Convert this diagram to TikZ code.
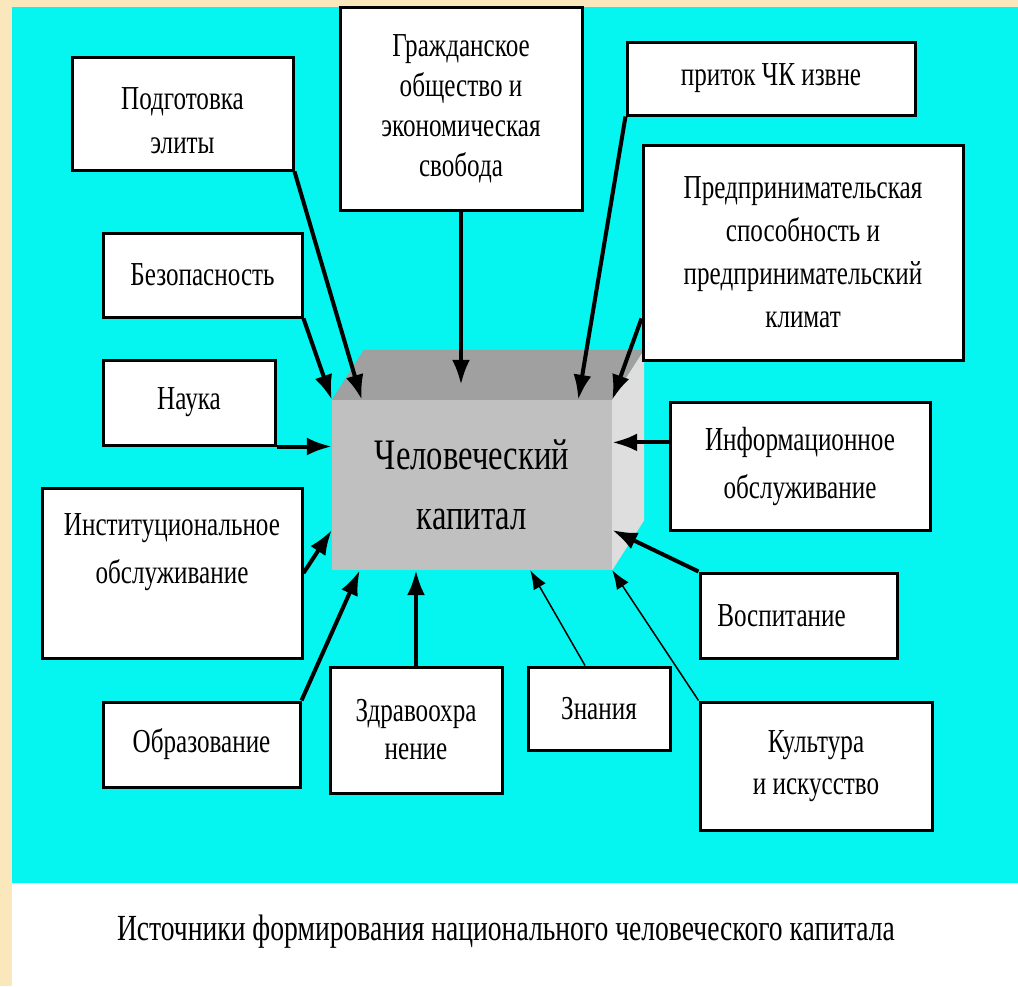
\documentclass[tikz,border=0pt]{standalone}
\usepackage{fontspec}
\setmainfont{Liberation Serif}[FakeStretch=0.75]
\usepackage{xcolor}
\usetikzlibrary{arrows.meta,calc}
\definecolor{bgcyan}{RGB}{5,245,240}
\definecolor{bgbeige}{RGB}{250,232,188}
\definecolor{hcfront}{RGB}{192,192,192}
\definecolor{hctop}{RGB}{160,160,160}
\definecolor{hcside}{RGB}{222,222,222}

\begin{document}
\begin{tikzpicture}[x=1pt,y=-1pt,
                every node/.append style = {align=center, font=\fontsize{33.5}{44}\selectfont},
                srcbox/.style = {draw, fill=white, line width=3pt, inner sep=0pt},
                inarrow/.style = {line width=4pt, -{Latex[length=25pt,width=18pt]}},
                thinarrow/.style = {line width=1.5pt, -{Latex[length=19pt,width=14pt]}}]
            \fill[bgbeige] (0,0) rectangle (1018,986);
            \fill[bgcyan] (12,7) rectangle (1018,883);
            \fill[white] (12,883) rectangle (1018,986);

            \node[fill=hcfront, minimum width=280, minimum height=170, font=\fontsize{43.5}{60}\selectfont] (hc) at (472,485) {Человеческий\\капитал};
            \fill[hctop] (hc.north west) -- ++(32,-50) -- ($(hc.north east)+(32,-50)$) -- (hc.north east) -- cycle;
            \fill[hcside] (hc.north east) -- ++(32,-50) -- ($(hc.south east)+(32,-50)$) -- (hc.south east) -- cycle;

            \node[srcbox, minimum width=221, minimum height=113] (elite) at (182.5,113.5) {\\[-8pt]Подготовка\\элиты};
            \node[srcbox, minimum width=242, minimum height=203, font=\fontsize{33.5}{40}\selectfont] (civil) at (461,108.5) {Гражданское\\общество и\\экономическая\\свобода};
            \node[srcbox, minimum width=288, minimum height=73] (inflow) at (771,78.5) {приток ЧК извне};
            \node[srcbox, minimum width=320, minimum height=215, font=\fontsize{33.5}{43}\selectfont] (entre) at (803,252.5) {Предпринимательская\\способность и\\предпринимательский\\климат};
            \node[srcbox, minimum width=199, minimum height=84] (safety) at (202.5,275) {Безопасность};
            \node[srcbox, minimum width=172, minimum height=85] (science) at (189,402.5) {Наука};
            \node[srcbox, minimum width=260, minimum height=128, font=\fontsize{33.5}{48}\selectfont] (info) at (800,466) {Информационное\\обслуживание};
            \node[srcbox, minimum width=260, minimum height=170, font=\fontsize{33.5}{48}\selectfont] (inst) at (172,573) {Институциональное\\обслуживание\\~};
            \node[srcbox, minimum width=197, minimum height=85] (upbr) at (798.5,615.5) {Воспитание\hspace*{34pt}};
            \node[srcbox, minimum width=197, minimum height=85] (edu) at (201.5,744.5) {Образование};
            \node[srcbox, minimum width=172, minimum height=126, font=\fontsize{33.5}{38}\selectfont] (health) at (416,730) {Здравоохра\\нение};
            \node[srcbox, minimum width=142, minimum height=83] (know) at (599,708.5) {Знания};
            \node[srcbox, minimum width=232, minimum height=128, font=\fontsize{33.5}{42}\selectfont] (culture) at (816,766) {Культура\\и искусство};

            \node[font=\fontsize{36.8}{44}\selectfont] (caption) at (506,932) {Источники формирования национального человеческого капитала};

            \coordinate (infotip) at ($(hc.north east)!0.25!(hc.south east)$);
            \draw[inarrow] (elite.south east) -- ($(hc.north west)+(30,0)$);
            \draw[inarrow] (safety.south east) -- (hc.north west);
            \draw[inarrow] (science.south east) -- (hc.west |- science.south east);
            \draw[inarrow] (civil.south) -- ($(civil.south |- hc.north)+(0,-15)$);
            \draw[inarrow] (inflow.south west) -- ($(hc.north east)+(-34,0)$);
            \draw[inarrow] ($(entre.south west)+(0,-43)$) -- (hc.north east);
            \draw[inarrow] (info.west |- infotip) -- (infotip);
            \draw[inarrow] (inst.east) -- ($(hc.west)+(0,45)$);
            \draw[inarrow] (edu.north east) -- ($(hc.south west)+(28,0)$);
            \draw[inarrow] (health.north) -- (health.north |- hc.south);
            \draw[thinarrow] ($(know.north)+(-14,0)$) -- ($(hc.south east)+(-82,0)$);
            \draw[inarrow] (upbr.north west) -- ($(hc.east)+(0,45)$);
            \draw[thinarrow] (culture.north west) -- (hc.south east);
            \end{tikzpicture}
\end{document}
